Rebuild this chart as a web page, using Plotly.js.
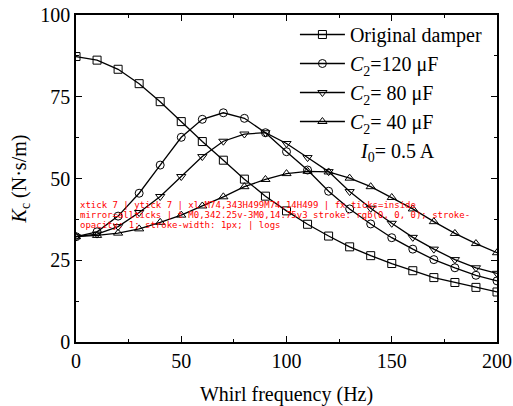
<!DOCTYPE html>
<html>
<head>
<meta charset="utf-8">
<script src="https://cdn.plot.ly/plotly-3.0.1.min.js"></script>
<style>html,body{margin:0;padding:0;background:#fff;overflow:hidden;width:513px;height:406px;}#chart{width:513px;height:406px;}#dbg{position:absolute;left:80px;top:200px;font:9px monospace;color:red;width:420px;word-wrap:break-word;}</style>
</head>
<body>
<div id="chart"></div>
<div id="dbg"></div>
<script>
var logs = [];
['log','warn','error','info'].forEach(function(k){
  var o = console[k];
  console[k] = function(){ logs.push(k + ':' + Array.prototype.join.call(arguments, ' ').slice(0, 80)); if (o) o.apply(console, arguments); };
});
window.onerror = function(m){ logs.push('WERR ' + m); };

var freq = [0,10,20,30,40,50,60,70,80,90,100,110,120,130,140,150,160,170,180,190,200];
var original = [87.3,86.2,83.4,79.0,73.5,67.4,61.3,55.6,49.8,44.6,40.1,36.0,32.4,29.1,26.4,24.0,21.8,19.7,18.2,16.7,15.3];
var c120 = [32.2,33.7,38.5,45.5,54.1,62.6,68.1,70.1,68.4,64.0,58.2,52.6,46.1,40.7,36.1,31.9,28.4,25.2,22.7,20.4,18.7];
var c80 = [32.2,33.0,35.3,39.6,44.5,50.6,56.7,61.4,63.6,64.0,60.7,56.4,52.1,46.0,40.9,36.3,32.0,28.4,25.2,22.7,21.0];
var c40 = [32.2,32.6,33.3,34.6,36.6,38.8,41.6,44.4,47.5,49.7,51.5,52.2,52.0,50.1,47.5,44.2,40.7,36.8,33.2,30.1,27.3];
var names = ['Original damper','<i>C</i><sub>2</sub>=120 μF','<i>C</i><sub>2</sub>= 80 μF','<i>C</i><sub>2</sub>= 40 μF'];
var symbols = ['square-open','circle-open','triangle-down-open','triangle-up-open'];
var series = [original, c120, c80, c40];

var traces = series.map(function(s, i){
  return {
    x: freq, y: s, name: names[i], type: 'scatter', mode: 'lines+markers',
    line: {color: '#000', width: 1.3},
    marker: {symbol: symbols[i], size: 8, color: '#000', line: {color: '#000', width: 1}}
  };
});

function mkFont(){ return {family: 'Liberation Serif, serif', size: 20, color: '#000'}; }

var layout = {
  width: 513, height: 406,
  margin: {l: 76, r: 16, t: 15, b: 64},
  font: mkFont(),
  showlegend: true,
  legend: {x: 0.52, y: 1.0, xanchor: 'left', yanchor: 'top', bgcolor: 'rgba(0,0,0,0)',
           font: mkFont(), itemwidth: 45},
  xaxis: {
    range: [0, 200], tick0: 0, dtick: 50,
    showline: true, linecolor: '#000', linewidth: 1.5, mirror: 'allticks',
    ticks: 'inside', ticklen: 6, tickwidth: 1.3, tickcolor: '#000',
    minor: {dtick: 25, ticks: 'inside', ticklen: 3, tickwidth: 1.2, tickcolor: '#000'},
    showgrid: false, zeroline: false, tickfont: mkFont(),
    title: {text: 'Whirl frequency (Hz)', font: mkFont()}
  },
  yaxis: {
    range: [0, 100], tick0: 0, dtick: 25,
    showline: true, linecolor: '#000', linewidth: 1.5, mirror: 'allticks',
    ticks: 'inside', ticklen: 6, tickwidth: 1.3, tickcolor: '#000',
    minor: {dtick: 12.5, ticks: 'inside', ticklen: 3, tickwidth: 1.2, tickcolor: '#000'},
    showgrid: false, zeroline: false, tickfont: mkFont(),
    title: {text: '<i>K</i><sub>c</sub> (N·s/m)', font: mkFont()}
  },
  annotations: [{
    xref: 'paper', yref: 'paper', x: 0.67, y: 0.58, xanchor: 'left', yanchor: 'middle',
    text: '<i>I</i><sub>0</sub>= 0.5 A', showarrow: false, font: mkFont()
  }]
};

Plotly.setPlotConfig({logging: 2});
Plotly.newPlot('chart', traces, layout, {displayModeBar: false}).then(function(gd){
  var out = [];
  out.push('xtick ' + document.querySelectorAll('path.xtick').length);
  out.push('ytick ' + document.querySelectorAll('path.ytick').length);
  var xl = document.querySelector('path.xlines-above');
  out.push('xl ' + (xl ? xl.getAttribute('d') : 'none'));
  out.push('fx ticks=' + gd._fullLayout.xaxis.ticks + ' mirror=' + gd._fullLayout.xaxis.mirror);
  var t = document.querySelector('path.xtick');
  out.push('t ' + (t ? (t.getAttribute('d') + ' ' + t.getAttribute('style')) : 'none'));
  out.push('logs ' + logs.join(' ; '));
  document.getElementById('dbg').textContent = out.join(' | ');
}).catch(function(e){ document.getElementById('dbg').textContent = 'ERR ' + e + ' ' + logs.join(';'); });
</script>
</body>
</html>
